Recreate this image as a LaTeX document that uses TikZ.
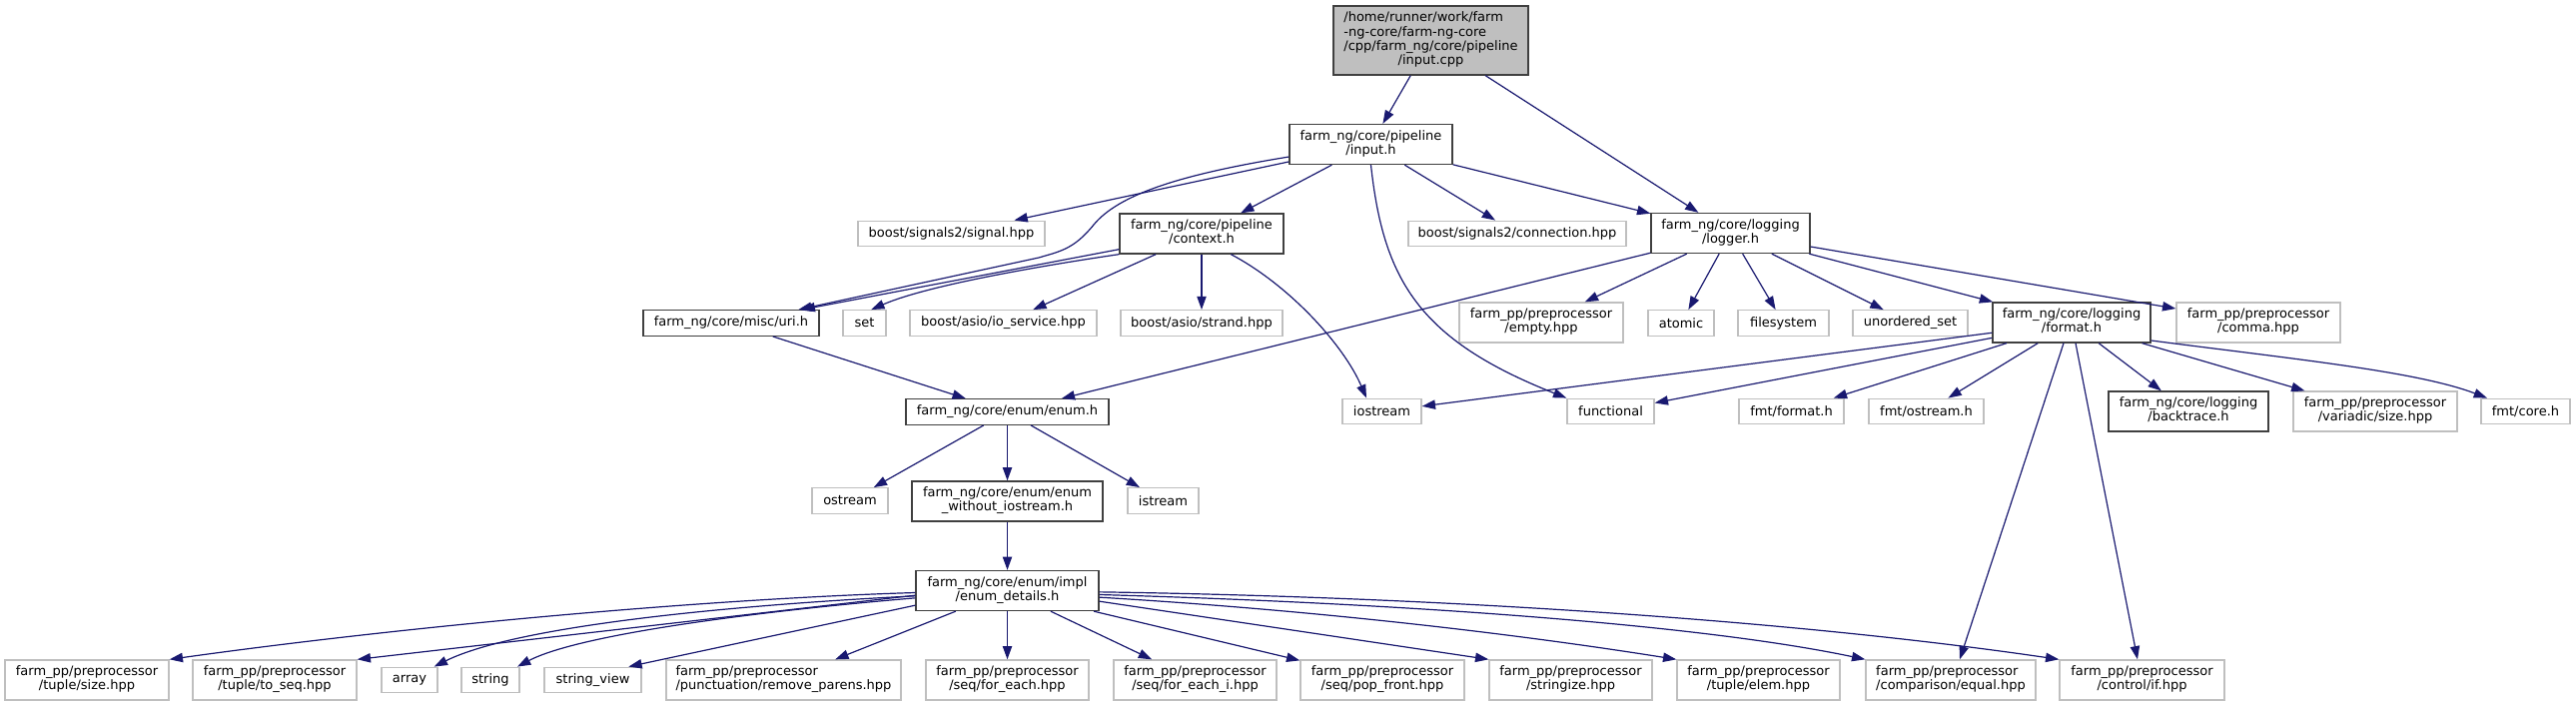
\documentclass[tikz,border=0pt]{standalone}
\usepackage{fontspec}
\setmainfont{DejaVu Sans}
\usetikzlibrary{arrows.meta}
\definecolor{edgecol}{HTML}{191970}
\definecolor{docline}{HTML}{404040}
\definecolor{extline}{HTML}{BFBFBF}
\definecolor{rootfill}{HTML}{BFBFBF}
\newcommand\mlab[2]{\begin{tabular}{@{}l@{}}#1\\\multicolumn{1}{@{}c@{}}{#2}\end{tabular}}
\tikzset{
  basebox/.style={draw, rectangle, inner sep=0pt, fill=white, line width=1pt,
    font=\fontsize{9.75}{10.7}\selectfont, align=center},
  doc/.style={basebox, draw=docline},
  ext/.style={basebox, draw=extline},
  bw/.style={minimum width=#1*0.75pt},
  one/.style={minimum height=25.5*0.75pt},
  two/.style={minimum height=40*0.75pt},
  dep/.style={draw=edgecol, line width=0.9pt, -{Triangle[length=10pt,width=7pt]}},
}
\begin{document}
\begin{tikzpicture}[x=0.75pt, y=-0.75pt]
\useasboundingbox[fill=white] (0,0) rectangle (2579,707);
% nodes
\node[doc, fill=rootfill, bw=195, minimum height=69*0.75pt] (cpp) at (1432.5,40.5)
  {\mlab{/home/runner/work/farm\\-ng-core/farm-ng-core\\/cpp/farm\_ng/core/pipeline}{/input.cpp}};
\node[doc,bw=163,two] (inputh) at (1372.5,144.5) {\mlab{farm\_ng/core/pipeline}{/input.h}};
\node[ext,bw=187,one] (signal) at (952.5,234) {boost/signals2/signal.hpp};
\node[doc,bw=164,two] (context) at (1203,234) {\mlab{farm\_ng/core/pipeline}{/context.h}};
\node[ext,bw=218,one] (connection) at (1519,234) {boost/signals2/connection.hpp};
\node[doc,bw=159,two] (logger) at (1732.5,233.5) {\mlab{farm\_ng/core/logging}{/logger.h}};
\node[doc,bw=176,one] (uri) at (732,323.5) {farm\_ng/core/misc/uri.h};
\node[ext,bw=43,one] (set) at (865.5,323.5) {set};
\node[ext,bw=187,one] (ioservice) at (1004.5,323.5) {boost/asio/io\_service.hpp};
\node[ext,bw=162,one] (strand) at (1203,323.5) {boost/asio/strand.hpp};
\node[ext,bw=164,two] (empty) at (1543,323) {\mlab{farm\_pp/preprocessor}{/empty.hpp}};
\node[ext,bw=66,one] (atomic) at (1683,323.5) {atomic};
\node[ext,bw=91,one] (filesystem) at (1785.5,323.5) {filesystem};
\node[ext,bw=115,one] (uset) at (1912.5,323.5) {unordered\_set};
\node[doc,bw=158,two] (format) at (2074,323) {\mlab{farm\_ng/core/logging}{/format.h}};
\node[ext,bw=164,two] (comma) at (2261,323) {\mlab{farm\_pp/preprocessor}{/comma.hpp}};
\node[doc,bw=203,one] (enum) at (1008.5,412.5) {farm\_ng/core/enum/enum.h};
\node[ext,bw=79,one] (iostream) at (1383.5,412) {iostream};
\node[ext,bw=87,one] (functional) at (1612.5,412) {functional};
\node[ext,bw=105,one] (fmtformat) at (1793.5,412) {fmt/format.h};
\node[ext,bw=115,one] (fmtostream) at (1928.5,412) {fmt/ostream.h};
\node[doc,bw=160,two] (backtrace) at (2191,412) {\mlab{farm\_ng/core/logging}{/backtrace.h}};
\node[ext,bw=164,two] (variadic) at (2378,412) {\mlab{farm\_pp/preprocessor}{/variadic/size.hpp}};
\node[ext,bw=89,one] (fmtcore) at (2528.5,412) {fmt/core.h};
\node[ext,bw=76,one] (ostream) at (851,501.5) {ostream};
\node[doc,bw=191,two] (enumwo) at (1008.5,502) {\mlab{farm\_ng/core/enum/enum}{\_without\_iostream.h}};
\node[ext,bw=71,one] (istream) at (1164.5,501.5) {istream};
\node[doc,bw=183,two] (details) at (1008.5,591.5) {\mlab{farm\_ng/core/enum/impl}{/enum\_details.h}};
\node[ext,bw=164,two] (tsize) at (87,681) {\mlab{farm\_pp/preprocessor}{/tuple/size.hpp}};
\node[ext,bw=164,two] (toseq) at (275,681) {\mlab{farm\_pp/preprocessor}{/tuple/to\_seq.hpp}};
\node[ext,bw=56,one] (array) at (410,681) {array};
\node[ext,bw=58,one] (string) at (491,681) {string};
\node[ext,bw=97,one] (stringview) at (593.5,681) {string\_view};
\node[ext,bw=235,two] (removeparens) at (784.5,681) {\mlab{farm\_pp/preprocessor}{/punctuation/remove\_parens.hpp}};
\node[ext,bw=163,two] (foreach) at (1008.5,681) {\mlab{farm\_pp/preprocessor}{/seq/for\_each.hpp}};
\node[ext,bw=163,two] (foreachi) at (1196.5,681) {\mlab{farm\_pp/preprocessor}{/seq/for\_each\_i.hpp}};
\node[ext,bw=164,two] (popfront) at (1384,681) {\mlab{farm\_pp/preprocessor}{/seq/pop\_front.hpp}};
\node[ext,bw=163,two] (stringize) at (1572.5,681) {\mlab{farm\_pp/preprocessor}{/stringize.hpp}};
\node[ext,bw=163,two] (elem) at (1760.5,681) {\mlab{farm\_pp/preprocessor}{/tuple/elem.hpp}};
\node[ext,bw=170,two] (equal) at (1953,681) {\mlab{farm\_pp/preprocessor}{/comparison/equal.hpp}};
\node[ext,bw=165,two] (ifhpp) at (2144.5,681) {\mlab{farm\_pp/preprocessor}{/control/if.hpp}};
% edges from input.cpp
\draw[dep] (cpp) -- (inputh);
\draw[dep] (cpp) -- (logger);
% edges from input.h
\draw[dep] (inputh) -- (signal);
\draw[dep] (inputh) -- (context);
\draw[dep] (inputh) -- (connection);
\draw[dep] (inputh) -- (logger);
\draw[dep] ([yshift=-9.4pt]inputh.west) .. controls (1180,175) and (1120,195) .. (1095,225)
  .. controls (1075,250) and (1060,252) .. (1040,258) -- ([xshift=-16pt]uri.north east);
\draw[dep] (inputh.south) .. controls (1385,280) and (1420,340) .. (functional.north west);
% edges from context.h
\draw[dep] (context) -- (uri);
\draw[dep] (context.south west) .. controls (1050,265) and (930,285) .. ([xshift=5pt]set.north);
\draw[dep] (context) -- (ioservice);
\draw[dep] (context) -- (strand);
\draw[dep] ([xshift=22pt]context.south) .. controls (1290,285) and (1345,345) .. ([xshift=-11.6pt]iostream.north);
% edges from logger.h
\draw[dep] (logger) -- (enum);
\draw[dep] (logger) -- (empty);
\draw[dep] (logger) -- (atomic);
\draw[dep] (logger) -- (filesystem);
\draw[dep] (logger) -- (uset);
\draw[dep] (logger) -- (format);
\draw[dep] (logger) -- (comma);
% uri
\draw[dep] (uri) -- (enum);
% format.h
\draw[dep] (format) -- (iostream);
\draw[dep] (format) -- (functional);
\draw[dep] (format) -- (fmtformat);
\draw[dep] (format) -- (fmtostream);
\draw[dep] (format) -- (backtrace);
\draw[dep] (format) -- (variadic);
\draw[dep] ([yshift=-13.5pt]format.east) .. controls (2300,360) and (2420,372) .. ([xshift=5pt]fmtcore.north west);
\draw[dep] ([xshift=-6pt]format.south) -- ([xshift=6.75pt]equal.north);
\draw[dep] ([xshift=3pt]format.south) -- ([xshift=-3.4pt]ifhpp.north);
% enum.h
\draw[dep] (enum) -- (ostream);
\draw[dep] (enum) -- (enumwo);
\draw[dep] (enum) -- (istream);
\draw[dep] (enumwo) -- (details);
% enum_details.h
\draw[dep] ([yshift=-1.5pt]details.west) .. controls (700,600) and (400,628) .. (tsize.north east);
\draw[dep] ([yshift=-3.5pt]details.west) -- (toseq.north east);
\draw[dep] ([yshift=-4pt]details.west) .. controls (750,605) and (520,625) .. ([xshift=-3pt]array.north east);
\draw[dep] ([yshift=-5.5pt]details.west) .. controls (760,612) and (580,635) .. ([xshift=-2pt]string.north east);
\draw[dep] ([yshift=-11pt]details.west) -- ([xshift=-10pt]stringview.north east);
\draw[dep] (details) -- (removeparens);
\draw[dep] (details) -- (foreach);
\draw[dep] (details) -- (foreachi);
\draw[dep] (details) -- (popfront);
\draw[dep] ([yshift=-8pt]details.east) -- (stringize.north west);
\draw[dep] ([yshift=-5pt]details.east) .. controls (1300,610) and (1500,632) .. (elem.north west);
\draw[dep] ([yshift=-3pt]details.east) .. controls (1400,604) and (1700,625) .. (equal.north west);
\draw[dep] ([yshift=-1pt]details.east) .. controls (1450,598) and (1800,622) .. (ifhpp.north west);
\end{tikzpicture}
\end{document}
